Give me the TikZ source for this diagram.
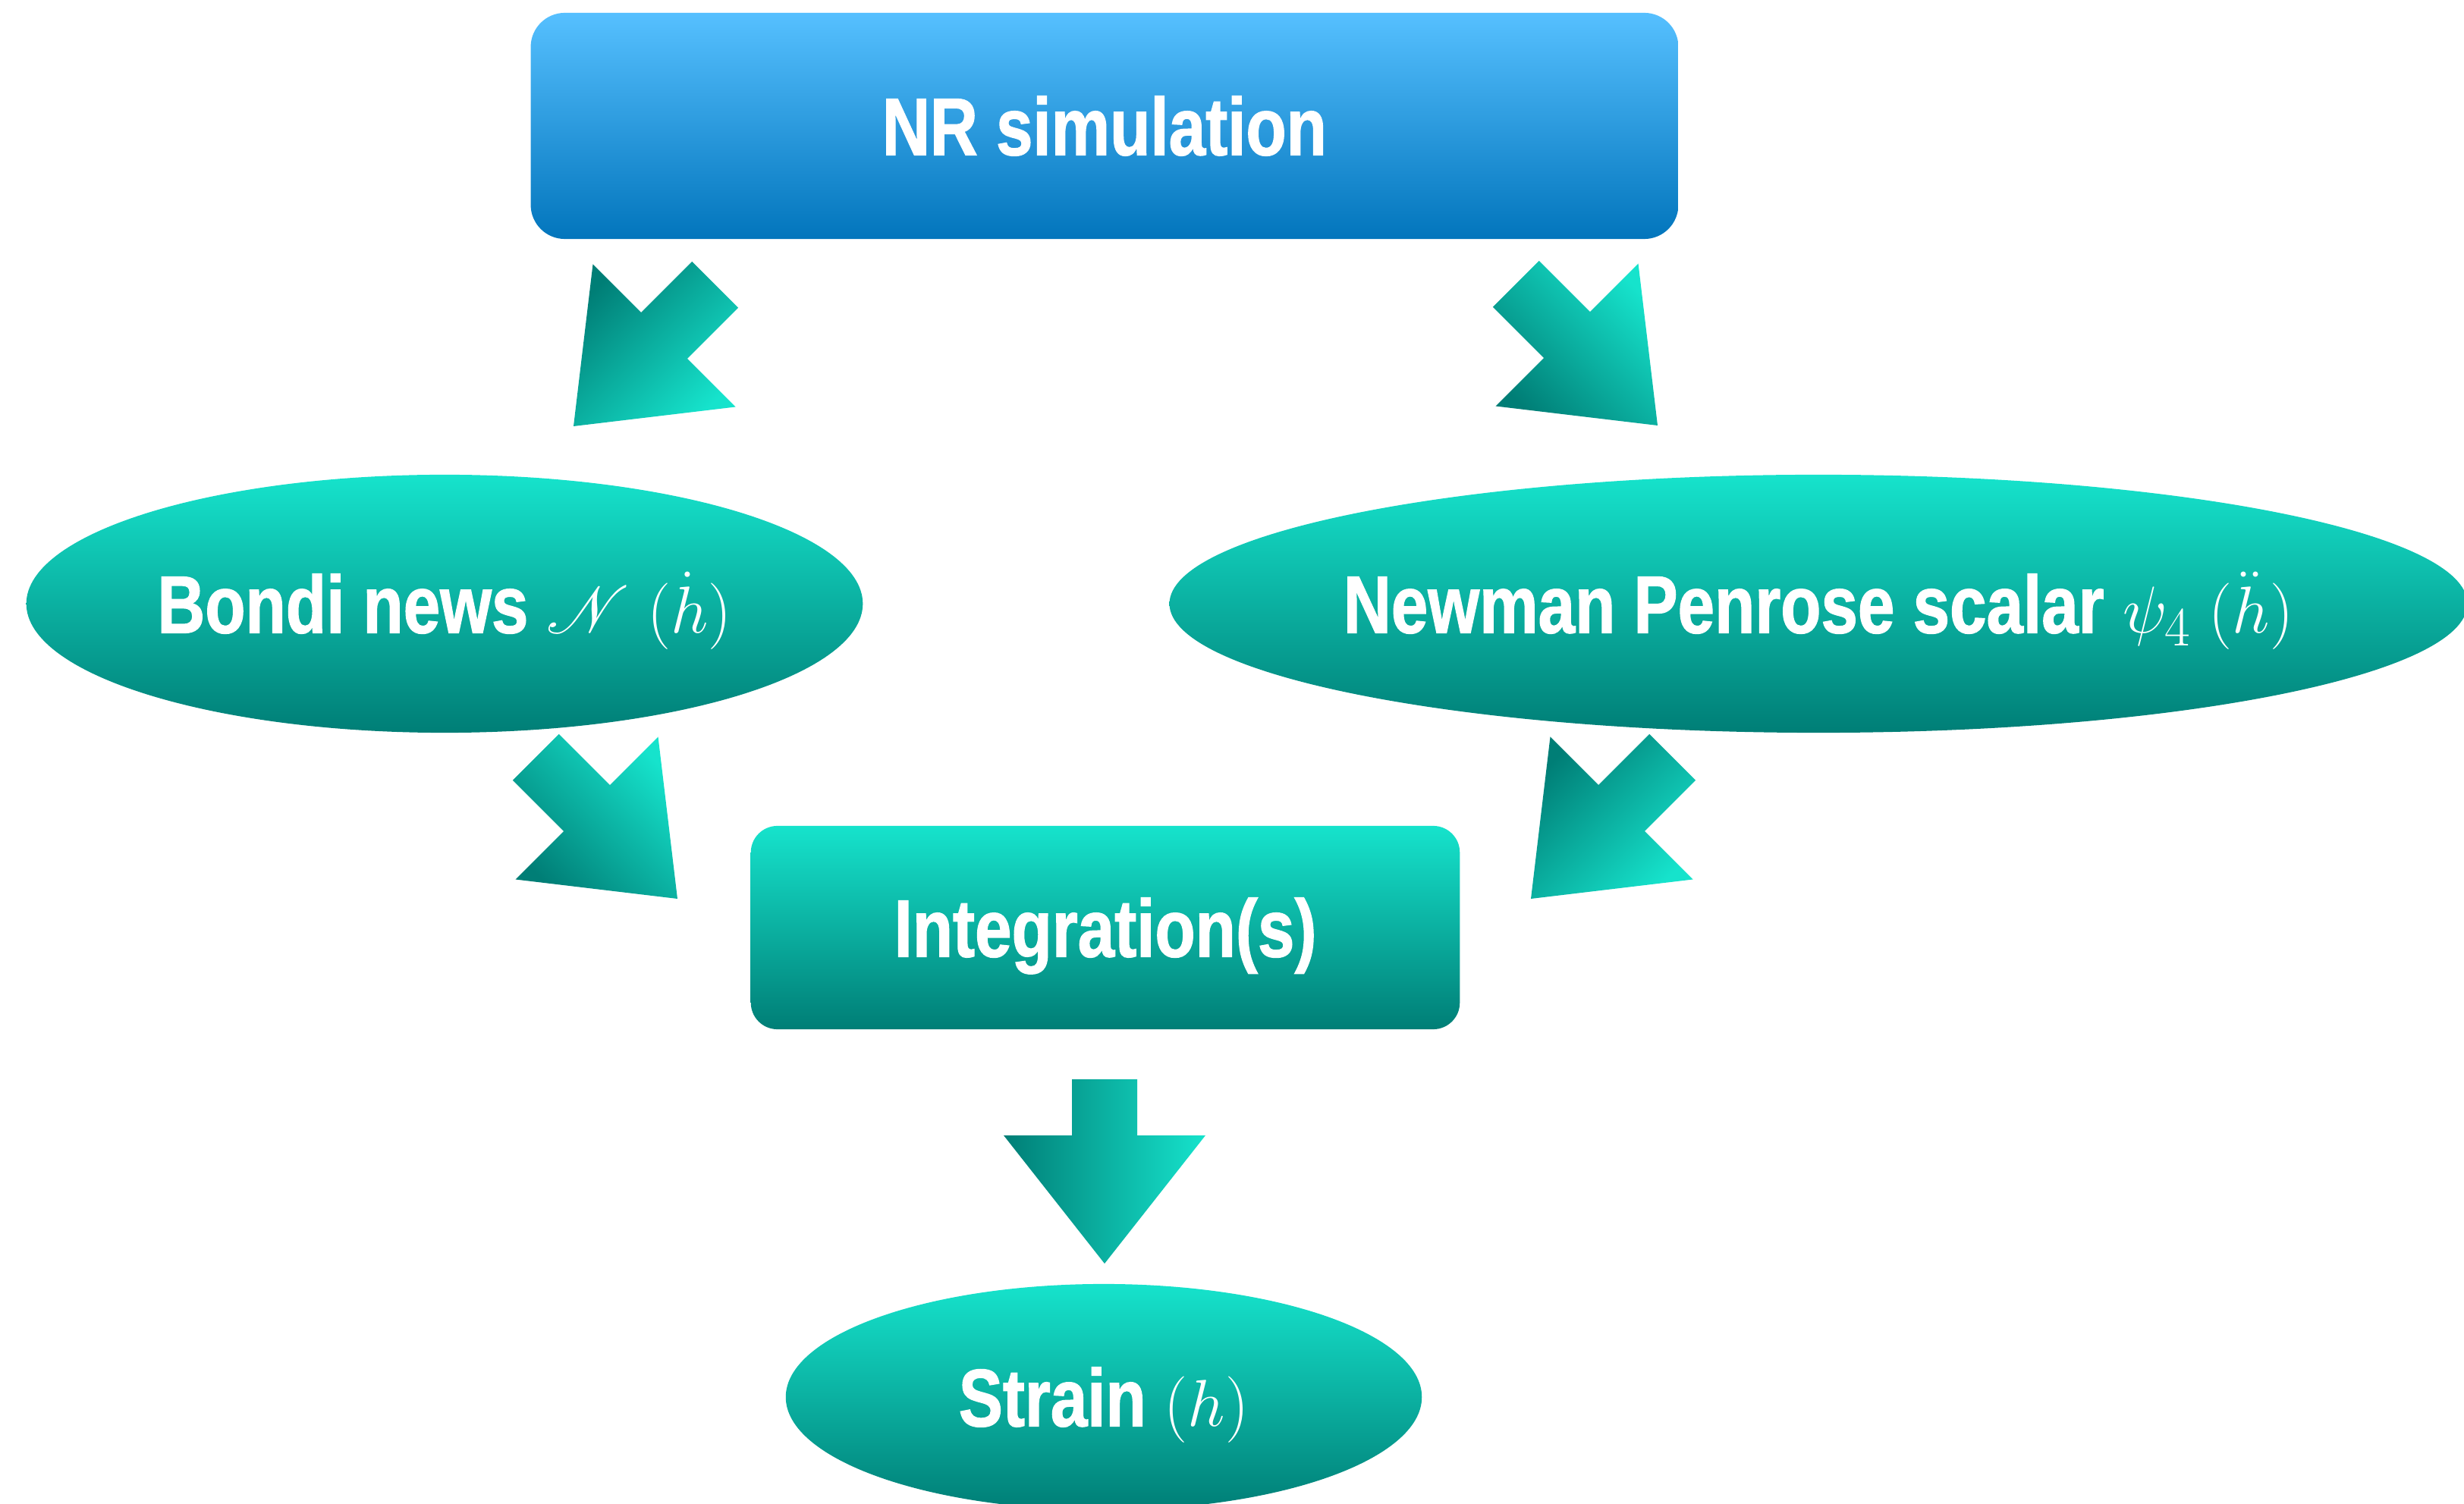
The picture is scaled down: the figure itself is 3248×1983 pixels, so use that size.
\documentclass[tikz,border=0pt]{standalone}
\usepackage{fontspec}
\usepackage{mathrsfs}
\usetikzlibrary{shapes.geometric}

% condensed bold sans for the labels
\newfontfamily\labelfont[FakeStretch=0.81,FakeBold=1.2]{Liberation Sans Bold}

\definecolor{tealtop}{RGB}{22,227,204}
\definecolor{tealbot}{RGB}{0,126,118}
\definecolor{bluetop}{RGB}{86,192,255}
\definecolor{bluebot}{RGB}{2,117,188}

\newcommand\mathpart[1]{{\fontsize{29}{34}\selectfont#1}}
% zero-width text so that the ovals keep their own size
\newcommand\centred[1]{\makebox[0pt][c]{#1}}

\tikzset{
  lbl/.style={text=white, font=\labelfont\fontsize{30.6}{36}\selectfont,
    inner sep=0pt, text height=0.77cm, text depth=0cm, draw=none},
  tealshade/.style={top color=tealtop, bottom color=tealbot},
  simbox/.style={lbl, rectangle, rounded corners=0.45cm,
    top color=bluetop, bottom color=bluebot},
  stepbox/.style={lbl, rectangle, rounded corners=0.35cm, tealshade},
  oval/.style={lbl, ellipse, tealshade},
  % block arrows, drawn with their tip at the pic origin
  pics/arrowSW/.style={code={
    \shade[top color=tealbot, bottom color=tealtop, shading angle=45]
      (0,0) -- (25.5,-213.5) -- (89.1,-149.9) -- (156.3,-217.1)
      -- (217.1,-156.3) -- (149.9,-89.1) -- (213.5,-25.5) -- cycle;
  }},
  pics/arrowSE/.style={code={
    \shade[top color=tealbot, bottom color=tealtop, shading angle=135]
      (0,0) -- (-25.5,-213.5) -- (-89.1,-149.9) -- (-156.3,-217.1)
      -- (-217.1,-156.3) -- (-149.9,-89.1) -- (-213.5,-25.5) -- cycle;
  }},
  pics/arrowS/.style={code={
    \shade[top color=tealbot, bottom color=tealtop, shading angle=90]
      (0,0) -- (-133,-169) -- (-43,-169) -- (-43,-243)
      -- (43,-243) -- (43,-169) -- (133,-169) -- cycle;
  }},
}

\begin{document}
\begin{tikzpicture}[x=0.01cm, y=-0.01cm]
  \path[use as bounding box] (0,0) rectangle (3248,1983);

  % process steps
  \node[simbox, minimum width=15.12cm, minimum height=2.98cm] (sim) at (1456,166) {NR simulation};
  \node[oval, minimum width=11.02cm, minimum height=3.40cm] (bondi) at (586,796)
    {\centred{Bondi news \mathpart{$\mathscr{N}$\ $(\dot{h})$}}};
  \node[oval, minimum width=17.10cm, minimum height=3.40cm] (np) at (2397,796)
    {\centred{Newman Penrose scalar \mathpart{$\psi_4$\ $(\ddot{h})$}}};
  \node[stepbox, minimum width=9.34cm, minimum height=2.68cm] (integ) at (1457,1223) {Integration(s)};
  \node[oval, minimum width=8.38cm, minimum height=2.98cm] (strain) at (1455,1842)
    {\centred{Strain \mathpart{$(h)$}}};

  % arrow tips between the steps
  \coordinate (simToBondi) at (756,562);
  \coordinate (simToNp) at (2185,561);
  \coordinate (bondiToInteg) at (893,1185);
  \coordinate (npToInteg) at (2018,1185);
  \coordinate (integToStrain) at (1456,1666);

  \pic at (simToBondi) {arrowSW};
  \pic at (simToNp) {arrowSE};
  \pic at (bondiToInteg) {arrowSE};
  \pic at (npToInteg) {arrowSW};
  \pic at (integToStrain) {arrowS};
\end{tikzpicture}
\end{document}
